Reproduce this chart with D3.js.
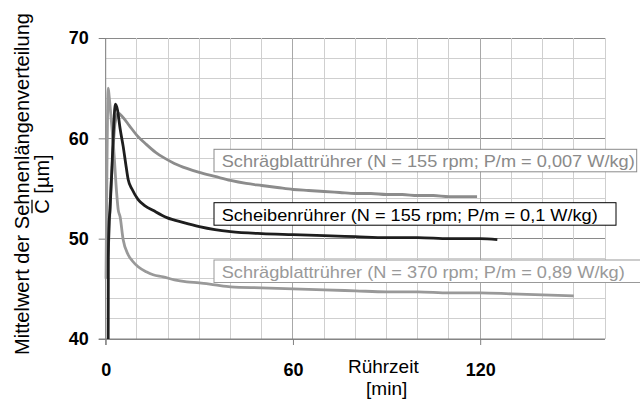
<!DOCTYPE html>
<html><head><meta charset="utf-8">
<script src="https://cdn.jsdelivr.net/npm/d3@7"></script>
<style>
body{margin:0;background:#fff;}
svg{display:block;font-family:"Liberation Sans",Arial,sans-serif;}
</style></head>
<body><svg id="c" width="640" height="401"></svg>
<script>
// ---- data ----
const xTicks = [0, 60, 120];
const yTicks = [40, 50, 60, 70];
const seriesNames = [
  "Schrägblattrührer (N = 155 rpm; P/m = 0,007 W/kg)",
  "Scheibenrührer (N = 155 rpm; P/m = 0,1 W/kg)",
  "Schrägblattrührer (N = 370 rpm; P/m = 0,89 W/kg)"
];
const tA = [0.3,1.0,1.5,2.2,3.0,4.0,5.5,7.5,10,13,16,19,22,26,30,35,40,45,50,55,60,65,70,75,80,85,90,95,100,105,110,115,119];
const vA = [47,50,54,58,61.5,62.5,62.1,61.3,60.3,59.4,58.6,58.0,57.5,57.0,56.6,56.2,55.8,55.5,55.3,55.1,54.9,54.8,54.7,54.6,54.5,54.5,54.4,54.4,54.3,54.3,54.2,54.2,54.2];
const tB = [0.8,0.85,1.0,1.4,2.0,2.6,3.1,3.8,4.6,5.6,6.4,7.2,8.5,10.4,12.5,15.3,19.6,25,30,35,40,50,60,70,80,90,100,110,120,125.5];
const vB = [40,48,51,53,57,61.5,63.4,62.8,61.0,59.2,57.5,55.9,54.9,53.9,53.3,52.8,52.1,51.6,51.2,50.9,50.7,50.5,50.4,50.3,50.2,50.1,50.1,50.0,50.0,49.9];
const tC = [0.1,0.4,0.8,1.1,1.6,2.5,3.5,4.0,4.6,5.6,7.2,8.5,10.4,13,15.2,18.4,22,26,30,35,40,50,60,70,80,90,100,110,120,130,140,150];
const vC = [46,57,65.0,64.2,62.5,59.2,54.6,52.9,52.2,49.9,48.4,47.8,47.2,46.7,46.4,46.2,45.9,45.7,45.6,45.4,45.2,45.1,45.0,44.9,44.8,44.7,44.7,44.6,44.6,44.5,44.4,44.3];

// ---- layout ----
const svg = d3.select("#c");
const x = d3.scaleLinear().domain([0,160]).range([105.7,605]);
const y = d3.scaleLinear().domain([40,70]).range([339,38]);

// grid
const g = svg.append("g");
const minorY = d3.range(40,70.1,2), minorX = d3.range(0,160.1,10);
g.selectAll(".hy").data(minorY).join("line")
  .attr("x1",x(0)).attr("x2",x(160)).attr("y1",d=>y(d)).attr("y2",d=>y(d))
  .attr("stroke",d=>d%10===0?"#8a8a8a":"#cfcfcf").attr("stroke-width",1).attr("shape-rendering","crispEdges");
g.selectAll(".vx").data(minorX).join("line")
  .attr("y1",y(40)).attr("y2",y(70)).attr("x1",d=>x(d)).attr("x2",d=>x(d))
  .attr("stroke",d=>(d%60===0&&d>0)?"#a8a8a8":"#cfcfcf").attr("stroke-width",1).attr("shape-rendering","crispEdges");

// axes
const yAxis = svg.append("g").attr("transform",`translate(${x(0)},0)`)
  .call(d3.axisLeft(y).tickValues(yTicks).tickSize(7).tickPadding(10).tickSizeOuter(0));
const xAxis = svg.append("g").attr("transform",`translate(0,${y(40)})`)
  .call(d3.axisBottom(x).tickValues(xTicks).tickSize(6).tickPadding(18).tickSizeOuter(0));
[yAxis,xAxis].forEach(a=>{
  a.select(".domain").attr("stroke","#808080");
  a.selectAll(".tick line").attr("stroke","#808080");
  a.selectAll("text").attr("font-family","Liberation Sans, Arial, sans-serif")
    .attr("font-weight","bold").attr("font-size",18).attr("fill","#000");
});
yAxis.select(".domain").remove();
yAxis.append("line").attr("x1",0).attr("x2",0).attr("y1",y(70)).attr("y2",y(40)+6).attr("stroke","#808080");
xAxis.select(".domain").remove();
xAxis.append("line").attr("x1",x(0)-7).attr("x2",x(160)).attr("y1",0).attr("y2",0).attr("stroke","#808080");
yAxis.selectAll("text").attr("dy","0.32em");

// lines
const line = d3.line().x(d=>x(d[0])).y(d=>y(d[1])).curve(d3.curveMonotoneX);
const series = [
  {t:tA,v:vA,color:"#8c8c8c"},
  {t:tC,v:vC,color:"#999999"},
  {t:tB,v:vB,color:"#1e1e1e"}
];
series.forEach(s=>{
  svg.append("path").datum(s.t.map((t,i)=>[t,s.v[i]]))
    .attr("d",line).attr("fill","none").attr("stroke",s.color)
    .attr("stroke-width",2.8).attr("stroke-linejoin","round");
});

// labels (boxes)
const boxes = [
  {name:seriesNames[0], y:149.3, w:422.7, len:413, col:"#8a8a8a", border:"#8a8a8a"},
  {name:seriesNames[1], y:202.7, w:402, len:376, col:"#000", border:"#000"},
  {name:seriesNames[2], y:260, w:440, len:403, col:"#999", border:"#999"}
];
boxes.forEach(b=>{
  svg.append("rect").attr("x",214).attr("y",b.y).attr("width",b.w).attr("height",22.5)
    .attr("fill","#fff").attr("stroke",b.border).attr("stroke-width",1);
  svg.append("text").attr("x",221.7).attr("y",b.y+18).attr("font-size",17)
    .attr("fill",b.col).attr("textLength",b.len).attr("lengthAdjust","spacingAndGlyphs").text(b.name);
});

// axis titles
svg.append("text").attr("x",383.3).attr("y",373).attr("text-anchor","middle").attr("font-size",19).text("Rührzeit");
svg.append("text").attr("x",386.7).attr("y",395).attr("text-anchor","middle").attr("font-size",19).text("[min]");
const yt = svg.append("text").attr("transform","translate(29,184) rotate(-90)").attr("text-anchor","middle").attr("font-size",20);
yt.append("tspan").attr("x",0).attr("y",0).attr("textLength",342).attr("lengthAdjust","spacingAndGlyphs").text("Mittelwert der Sehnenlängenverteilung");
const yg2 = svg.append("g").attr("transform","translate(49,184) rotate(-90)");
const yt2 = yg2.append("text").attr("text-anchor","middle").attr("font-size",20);
const cSpan = yt2.append("tspan").text("C");
yt2.append("tspan").text(" [µm]");
const total = yt2.node().getComputedTextLength();
const cLen = cSpan.node().getComputedTextLength();
yg2.append("line").attr("x1",-total/2+0.5).attr("x2",-total/2+cLen-0.5)
  .attr("y1",-17).attr("y2",-17).attr("stroke","#000").attr("stroke-width",1.3);
</script></body></html>
